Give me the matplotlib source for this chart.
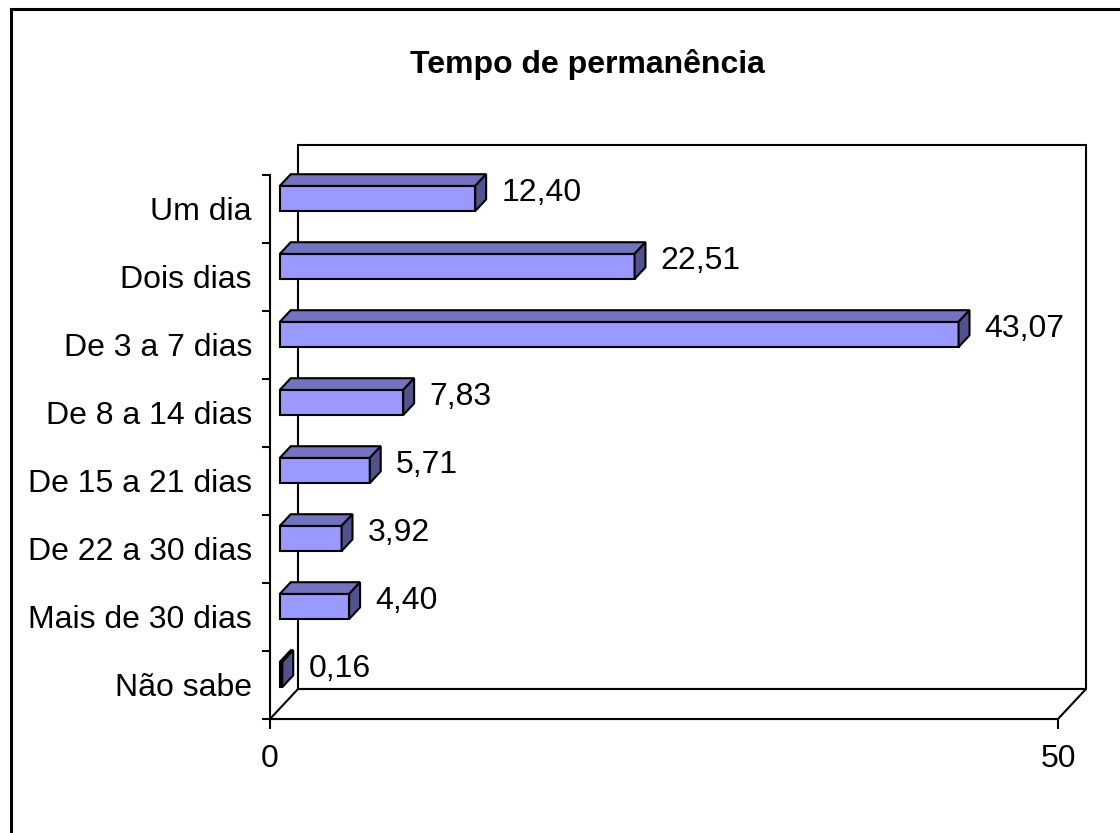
import matplotlib
matplotlib.use("Agg")
import matplotlib.pyplot as plt
from matplotlib.patches import Polygon, Rectangle
from matplotlib.lines import Line2D

plt.rcParams['font.family'] = ['Liberation Sans', 'DejaVu Sans']

# data
title = "Tempo de permanência"
categories = ["Um dia", "Dois dias", "De 3 a 7 dias", "De 8 a 14 dias",
              "De 15 a 21 dias", "De 22 a 30 dias", "Mais de 30 dias", "Não sabe"]
values = [12.40, 22.51, 43.07, 7.83, 5.71, 3.92, 4.40, 0.16]
xmax = 50

# look
front_col = "#9999FF"
top_col = "#7373BF"
side_col = "#52528C"
fs = 23
lw = 1.5

W, H = 1120, 833
fig = plt.figure(figsize=(W / 100, H / 100), dpi=100)
ax = fig.add_axes([270 / W, 1 - 719 / H, 788 / W, 544 / H])
n = len(categories)
ax.set_xlim(0, xmax)
ax.set_ylim(n, 0)

# 3d depth in data units (28 px right, 30 px up)
px_x = 788 / xmax
px_y = 544 / n
DX = 28 / px_x
DY = 30 / px_y

# back wall and floor
ax.add_patch(Polygon([(DX, -DY), (xmax + DX, -DY), (xmax + DX, n - DY), (DX, n - DY)],
                     closed=True, fill=False, lw=lw, ec="black", clip_on=False, zorder=1))
ax.add_patch(Polygon([(0, n), (xmax, n), (xmax + DX, n - DY), (DX, n - DY)],
                     closed=True, fill=False, lw=lw, ec="black", clip_on=False, zorder=1))

# bars
f1, f2 = 0.35, 0.74
h = 0.37
for i, v in enumerate(values):
    yc = i + 0.5 - f1 * DY
    x0 = f1 * DX
    top = yc - h / 2
    bot = yc + h / 2
    ddx = (f2 - f1) * DX
    ddy = (f2 - f1) * DY
    ax.add_patch(Rectangle((x0, top), v, h, fc=front_col, ec="black", lw=lw,
                           clip_on=False, zorder=3))
    ax.add_patch(Polygon([(x0, top), (x0 + v, top), (x0 + v + ddx, top - ddy), (x0 + ddx, top - ddy)],
                         closed=True, fc=top_col, ec="black", lw=lw, clip_on=False, zorder=3))
    ax.add_patch(Polygon([(x0 + v, top), (x0 + v, bot), (x0 + v + ddx, bot - ddy), (x0 + v + ddx, top - ddy)],
                         closed=True, fc=side_col, ec="black", lw=lw, clip_on=False, zorder=3))
    fm = (f1 + f2) / 2
    ax.text(v + fm * DX + 1.3, i + 0.5 - fm * DY, f"{v:.2f}".replace(".", ","),
            ha="left", va="center", fontsize=fs, zorder=4)

# axes
for s in ["top", "right"]:
    ax.spines[s].set_visible(False)
for s in ["left", "bottom"]:
    ax.spines[s].set_linewidth(lw)
ax.set_xticks([0, xmax])
ax.set_xticklabels(["0", str(xmax)], fontsize=fs)
ax.tick_params(axis="x", length=7.2, width=lw, pad=11)
ax.set_yticks([i + 0.5 for i in range(n)])
ax.set_yticklabels(categories, fontsize=fs)
ax.set_yticks(range(n + 1), minor=True)
ax.tick_params(axis="y", which="major", length=0, pad=13)
ax.tick_params(axis="y", which="minor", length=5.8, width=lw)

fig.text(587 / W, 1 - 64 / H, title, ha="center", va="center",
         fontsize=fs, fontweight="bold")

# outer border (left and top visible)
fig.add_artist(Line2D([11 / W, 11 / W], [0, 1 - 9 / H], color="black", lw=2.2))
fig.add_artist(Line2D([11 / W, 1], [1 - 9 / H, 1 - 9 / H], color="black", lw=2.2))

fig.savefig("out.png", dpi=100)
